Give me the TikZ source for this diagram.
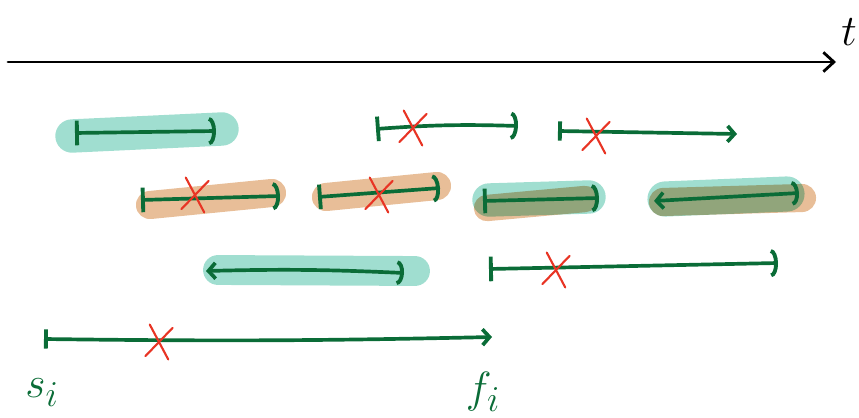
\documentclass[tikz,border=0pt]{standalone}
\usetikzlibrary{arrows.meta,shapes.misc}
\definecolor{ink}{RGB}{10,108,55}
\definecolor{keepfill}{RGB}{160,222,208}
\definecolor{clashfill}{RGB}{232,190,152}
\definecolor{xred}{RGB}{232,52,36}
\begin{document}
\begin{tikzpicture}[x=0.02cm, y=-0.02cm, line cap=round,
  axis/.style={line width=1.6pt, -{Straight Barb[length=6pt,width=11pt,line width=1.6pt]}},
  job/.style={draw=ink, line width=2.1pt},
  hook/.style={job, {Bar[width=14pt,line width=2.2pt]}-{Arc Barb[length=4pt,width=16pt,line width=2.2pt]}},
  shot/.style={job, {Bar[width=11pt,line width=2.2pt]}-{Straight Barb[length=4pt,width=9pt,line width=2.1pt]}},
  back/.style={job, {Straight Barb[length=4pt,width=9pt,line width=2.1pt]}-{Arc Barb[length=4pt,width=14pt,line width=2.2pt]}},
  keep/.style={draw=keepfill, line width=#1},
  clash/.style={draw=clashfill, line width=#1},
  strike/.style={cross out, draw=xred, line width=1.2pt, minimum width=12pt, minimum height=17pt, inner sep=0pt, rotate=-8},
  hand/.style={inner sep=0pt, font=\fontsize{30}{30}\selectfont}]
\useasboundingbox (0,0) rectangle (859,418);

% time axis
\coordinate (t0) at (8,62);
\coordinate (t1) at (836,62);
\draw[axis] (t0) -- (t1);
\node[hand, font=\fontsize{36}{36}\selectfont] (tlab) at (849,32) {$t$};

% interval end points
\coordinate (s1) at (75,133);   \coordinate (f1) at (216,131);
\coordinate (s2) at (376,129);  \coordinate (f2) at (518,126);
\coordinate (s3) at (558,131);  \coordinate (f3) at (737,134);
\coordinate (s4) at (141,200);  \coordinate (f4) at (280,196);
\coordinate (s5) at (318,197);  \coordinate (f5) at (440,188);
\coordinate (s6) at (483,201);  \coordinate (f6) at (599,198);
\coordinate (s7) at (654,201);  \coordinate (f7) at (799,193);
\coordinate (s8) at (206,271);  \coordinate (f8) at (404,273);
\coordinate (s9) at (489,269);  \coordinate (f9) at (778,263);
\coordinate (s10) at (44,339);  \coordinate (f10) at (492,337);

% highlights
\draw[keep=19pt] (72,136) -- (222,129);
\draw[clash=16pt] (150,205) -- (272,193);
\draw[clash=16pt] (326,197) -- (437,186);
\draw[keep=17pt] (218,270) -- (415,271);
\begin{scope}[blend mode=multiply]
  \draw[clash=15pt] (487,208) -- (585,199);
  \draw[keep=19pt] (489,200) -- (589,197);
  \draw[clash=16pt] (663,202) -- (802,198);
  \draw[keep=20pt] (665,199) -- (787,194);
\end{scope}

% intervals
\draw[hook] (s1) -- (f1);
\draw[hook] (s2) to[bend left=3] (f2);
\draw[shot] (s3) -- (f3);
\draw[hook] (s4) -- (f4);
\draw[hook] (s5) -- (f5);
\draw[hook] (s6) -- (f6);
\draw[back] (s7) -- (f7);
\draw[back] (s8) to[bend left=2] (f8);
\draw[hook] (s9) -- (f9);
\draw[shot] (s10) to[bend right=1] (f10);

% rejected ones
\node[strike] (x2) at (413,128) {};
\node[strike] (x3) at (596,136) {};
\node[strike] (x4) at (195,195) {};
\node[strike] (x5) at (379,195) {};
\node[strike] (x9) at (556,270) {};
\node[strike] (x10) at (159,342) {};

% labels
\node[hand, text=ink] (si) at (42,393) {$s_i$};
\node[hand, text=ink] (fi) at (483,392) {$f_i$};
\end{tikzpicture}
\end{document}
